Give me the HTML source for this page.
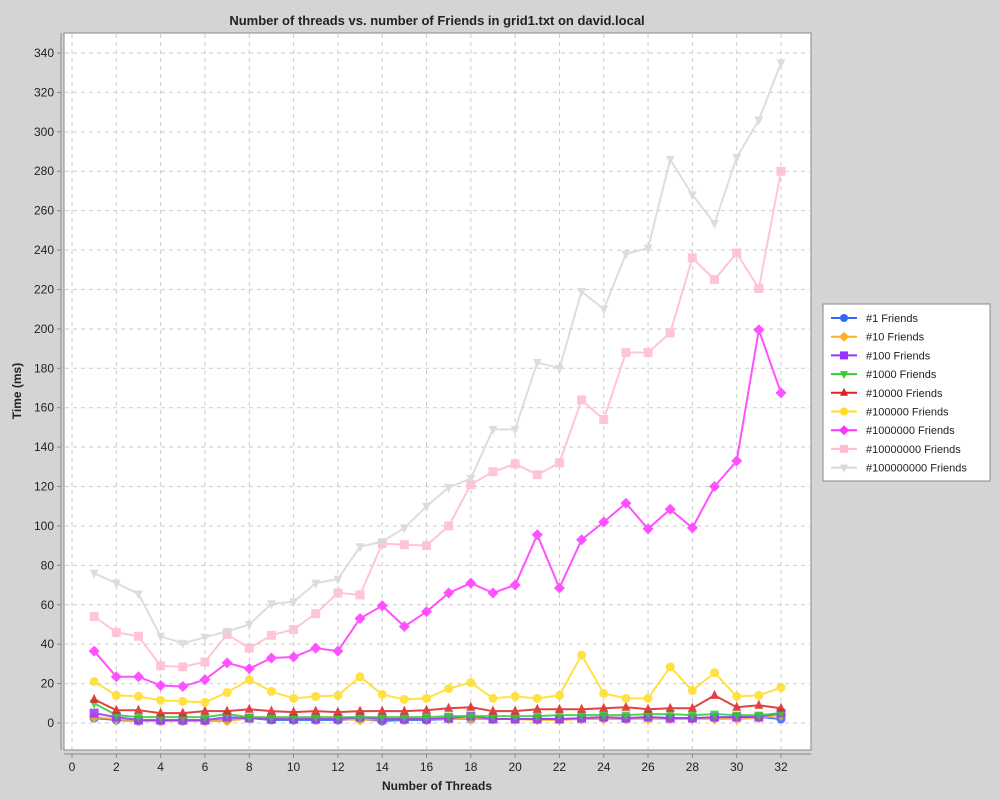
<!DOCTYPE html>
<html><head><meta charset="utf-8"><style>
body{margin:0;background:#d4d4d4;}
svg{display:block;font-family:"Liberation Sans",sans-serif;}
</style></head><body>
<svg id="chart" width="1000" height="800">
<rect width="1000" height="800" fill="#d4d4d4"/>
<text x="437" y="25" text-anchor="middle" font-size="13" font-weight="bold" fill="#222">Number of threads vs. number of Friends in grid1.txt on david.local</text>
<rect x="64" y="33" width="747" height="717" fill="#fff" stroke="#888"/>
<g id="grid"></g><g id="axes"></g><g id="series"></g>
<text x="437" y="790" text-anchor="middle" font-size="12" font-weight="bold" fill="#222">Number of Threads</text>
<text transform="translate(21,391) rotate(-90)" text-anchor="middle" font-size="12" font-weight="bold" fill="#222">Time (ms)</text>
<g id="legend"></g>
</svg>
<script>
const threads=[1,2,3,4,5,6,7,8,9,10,11,12,13,14,15,16,17,18,19,20,21,22,23,24,25,26,27,28,29,30,31,32];
const seriesNames=["#1 Friends","#10 Friends","#100 Friends","#1000 Friends","#10000 Friends","#100000 Friends","#1000000 Friends","#10000000 Friends","#100000000 Friends"];
const s1=[2.5,1.5,1,1,1,1,1.5,2.5,1.5,1.5,1.5,1.5,2,1,1.5,1.5,2,2,2,2,2,2,2,2.5,2,3,2.5,2.5,2.5,3,3,2];
const s10=[3,2,1,1,1,1,1,2.5,2,2,2,2,1.5,2,2,2,2,2,2,2,1.5,1.5,2,2,2,2,2,2,2,2,2.5,4];
const s100=[5,3,1.5,1.5,1.5,1.5,3,2.5,2,2,2,2,3,2,2,2,2.5,3.5,2,2,2,2,2.5,3,2.5,3,2.5,2.5,3,3,3,5];
const s1000=[10,4,3,3,3,3,4.5,3,3,3,3,3,3,3,3,3,3.5,3.5,3.5,3.5,3.5,4,4,4,4,4.5,4.5,4,4.5,4,4,5];
const s10000=[12,6.5,6.5,5,5,6,6,7,6,5.5,6,5.5,6,6,6,6.5,7.5,8,6,6,7,7,7,7.5,8,7,7.5,7.5,14,8,9,7.5];
const s100000=[21,14,13.5,11.5,11,10.5,15.5,22,16,12.5,13.5,14,23.5,14.5,12,12.5,17.5,20.5,12.5,13.5,12.5,14,34.5,15,12.5,12.5,28.5,16.5,25.5,13.5,14,18];
const s1000000=[36.5,23.5,23.5,19,18.5,22,30.5,27.5,33,33.5,38,36.5,53,59.5,49,56.5,66,71,66,70,95.5,68.5,93,102,111.5,98.5,108.5,99,120,133,199.5,167.5];
const s10000000=[54,46,44,29,28.5,31,45,38,44.5,47.5,55.5,66,65,91,90.5,90,100,121,127.5,131.5,126,132,164,154,188,188,198,236,225,238.5,220.5,280];
const s100000000=[76,71,65.5,44,40.5,43.5,46.5,50,60.5,61.5,71,73,89.5,92,99,110,119.5,124,149,149,183,180,219,210,238,241,286,268,253.5,287,306,335];
const xTicks=[0,2,4,6,8,10,12,14,16,18,20,22,24,26,28,30,32];
const yTicks=[0,20,40,60,80,100,120,140,160,180,200,220,240,260,280,300,320,340];
const NS="http://www.w3.org/2000/svg";
const xS=v=>72+v*(781-72)/32;
const yS=v=>723-v*(723-53)/340;
function mk(tag,attrs,parent){const e=document.createElementNS(NS,tag);for(const k in attrs)e.setAttribute(k,attrs[k]);parent.appendChild(e);return e;}
const grid=document.getElementById('grid'),axes=document.getElementById('axes');
mk('line',{x1:61,y1:33,x2:61,y2:750,stroke:'#888'},axes);
mk('line',{x1:64,y1:754,x2:811,y2:754,stroke:'#888'},axes);
xTicks.forEach(t=>{const x=xS(t);
 const g=mk('line',{x1:x,y1:34,x2:x,y2:749,stroke:'#ccc','stroke-dasharray':'4,4'},grid);
 
 mk('line',{x1:x,y1:754,x2:x,y2:758,stroke:'#888'},axes);
 const tx=mk('text',{x:x,y:771,'text-anchor':'middle','font-size':12,fill:'#222'},axes);tx.textContent=t;
 });
yTicks.forEach(t=>{const y=yS(t);
 const g=mk('line',{x1:65,y1:y,x2:810,y2:y,stroke:'#ccc','stroke-dasharray':'4,4'},grid);
 
 mk('line',{x1:57,y1:y,x2:61,y2:y,stroke:'#888'},axes);
 const tx=mk('text',{x:54,y:y+4,'text-anchor':'end','font-size':12,fill:'#222'},axes);tx.textContent=t;
 });
const data=[s1,s10,s100,s1000,s10000,s100000,s1000000,s10000000,s100000000];
const colors=['#3366ff','#ffb020','#9933ff','#33cc33','#dd2222','#ffdd22','#ff33ff','#ffbbd0','#d8d8d8'];
const shapes=['circle','diamond','square','down','up','circle','diamond','square','down'];
function marker(shape,x,y,c,p,r){r=r||4.5;
 if(shape==='circle')return mk('circle',{cx:x,cy:y,r:r,fill:c},p);
 if(shape==='square')return mk('rect',{x:x-r,y:y-r,width:2*r,height:2*r,fill:c},p);
 let pts;
 if(shape==='diamond')pts=[[x,y-r-1],[x+r+1,y],[x,y+r+1],[x-r-1,y]];
 if(shape==='up')pts=[[x,y-r-1],[x+r,y+r-1],[x-r,y+r-1]];
 if(shape==='down')pts=[[x,y+r+1],[x+r,y-r+1],[x-r,y-r+1]];
 return mk('polygon',{points:pts.map(p=>p.join(',')).join(' '),fill:c},p);}
const sg=document.getElementById('series');
data.forEach((arr,i)=>{
 const g=mk('g',{opacity:0.85},sg);
 
 
 mk('polyline',{points:arr.map((v,j)=>xS(threads[j])+','+yS(v)).join(' '),fill:'none',stroke:colors[i],'stroke-width':2},g);
 arr.forEach((v,j)=>{const m=marker(shapes[i],xS(threads[j]),yS(v),colors[i],g);
  });
});
const lg=document.getElementById('legend');
mk('rect',{x:823,y:304,width:167,height:177,fill:'#fff',stroke:'#888'},lg);
seriesNames.forEach((n,i)=>{const y=318+i*18.7;
 const e=mk('g',{},lg);
 
 
 mk('line',{x1:831,y1:y,x2:857,y2:y,stroke:colors[i],'stroke-width':2},e);
 marker(shapes[i],844,y,colors[i],e,4);
 const t=mk('text',{x:866,y:y+4,'font-size':11,fill:'#222'},e);t.textContent=n;});
</script>
</body></html>
